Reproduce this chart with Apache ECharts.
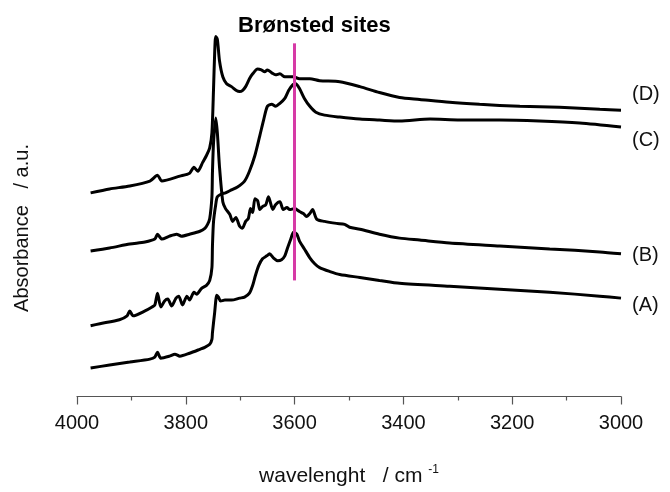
<!DOCTYPE html>
<html>
<head>
<meta charset="utf-8">
<script src="https://cdn.jsdelivr.net/npm/echarts@6/dist/echarts.min.js"></script>
<style>
  html, body { margin: 0; padding: 0; background: #fff; }
  #chart { width: 670px; height: 492px; }
</style>
</head>
<body>
<div id="chart"></div>
<script>
// IR spectra, wavenumber (cm-1) vs absorbance (a.u., offset traces)
const waveA = [3975,3940,3903,3866,3857,3852,3846,3830,3820,3811,3793,3774,3765,3756,3752,3751,3747,3743,3740,3736,3728,3716,3701,3692,3683,3677,3672,3666,3659,3651,3646,3639,3631,3624,3618,3613,3607,3602,3596,3591,3582,3572,3563,3554,3535,3517,3480,3444,3407,3315,3223,3131,3039,3000];
const absA  = [0.29,0.32,0.35,0.38,0.40,0.45,0.39,0.41,0.43,0.41,0.44,0.48,0.50,0.53,0.58,0.65,0.85,1.03,1.01,0.97,0.98,0.98,1.00,1.01,1.05,1.13,1.23,1.33,1.40,1.43,1.45,1.41,1.38,1.39,1.43,1.51,1.60,1.67,1.65,1.58,1.50,1.41,1.35,1.31,1.27,1.24,1.21,1.18,1.15,1.12,1.09,1.06,1.02,1.00];

const waveB = [3975,3940,3903,3875,3857,3852,3844,3830,3817,3808,3793,3774,3765,3760,3756,3752,3751,3749,3745,3742,3738,3732,3727,3719,3714,3708,3701,3696,3690,3685,3681,3677,3673,3668,3664,3659,3653,3648,3640,3635,3627,3621,3614,3609,3600,3591,3584,3578,3572,3567,3559,3545,3523,3508,3499,3480,3444,3407,3370,3315,3223,3131,3039,3000];
const absB  = [1.48,1.51,1.55,1.57,1.60,1.65,1.60,1.63,1.65,1.63,1.65,1.68,1.71,1.75,1.81,2.03,2.28,2.58,2.83,2.68,2.33,1.98,1.91,1.85,1.78,1.82,1.73,1.71,1.78,1.81,1.91,1.87,2.01,1.99,1.90,1.93,1.95,2.03,1.90,1.95,1.98,1.90,1.92,1.90,1.91,1.88,1.86,1.83,1.86,1.90,1.80,1.78,1.76,1.75,1.72,1.70,1.65,1.61,1.59,1.56,1.53,1.50,1.47,1.45];

const waveC = [3975,3958,3922,3908,3903,3897,3875,3862,3857,3852,3846,3839,3833,3826,3818,3813,3806,3798,3793,3785,3780,3771,3762,3756,3752,3751,3749,3745,3742,3734,3727,3716,3705,3692,3683,3673,3664,3657,3650,3642,3635,3627,3618,3611,3603,3598,3591,3582,3572,3561,3545,3517,3480,3444,3407,3351,3296,3223,3150,3076,3000];
const absC  = [0.72,0.74,0.78,0.82,0.87,0.82,0.87,0.91,0.93,1.05,0.91,0.97,0.99,0.92,1.00,1.02,0.93,1.02,0.98,1.06,1.04,1.10,1.13,1.18,1.31,1.53,1.78,1.95,2.03,2.06,2.07,2.10,2.13,2.19,2.29,2.45,2.65,2.81,2.95,2.97,2.95,2.98,3.03,3.11,3.17,3.18,3.13,3.03,2.95,2.89,2.86,2.84,2.82,2.81,2.80,2.82,2.81,2.81,2.80,2.78,2.74];

const waveD = [3975,3940,3903,3866,3852,3844,3811,3793,3785,3778,3769,3762,3756,3752,3749,3747,3745,3742,3738,3732,3725,3716,3707,3701,3696,3690,3683,3677,3668,3661,3655,3650,3642,3635,3627,3618,3603,3591,3572,3554,3517,3480,3444,3407,3370,3315,3260,3186,3113,3039,3000];
const absD  = [2.07,2.11,2.14,2.19,2.25,2.19,2.24,2.27,2.33,2.29,2.38,2.45,2.53,2.68,3.13,3.48,3.66,3.63,3.41,3.25,3.18,3.15,3.11,3.10,3.11,3.15,3.23,3.28,3.33,3.32,3.30,3.32,3.29,3.27,3.28,3.25,3.25,3.23,3.23,3.21,3.20,3.15,3.09,3.04,3.02,2.99,2.97,2.95,2.94,2.92,2.91];

const seriesNames = ['(A)', '(B)', '(C)', '(D)'];
const xTicks = [4000, 3800, 3600, 3400, 3200, 3000];
const bronstedWave = 3600;
const bronstedSpan = [1.18, 3.59];

const FONT = '"Liberation Sans", Arial, sans-serif';

function pairs(w, a) { return w.map((x, i) => [x, a[i]]); }

const traces = [
  { w: waveA, a: absA, dy: 7 },
  { w: waveB, a: absB, dy: 2 },
  { w: waveC, a: absC, dy: 14 },
  { w: waveD, a: absD, dy: -16 }
];

const series = traces.map((t, i) => ({
  name: seriesNames[i],
  type: 'line',
  data: pairs(t.w, t.a),
  showSymbol: false,
  smooth: 0.25,
  lineStyle: { color: '#000', width: 3 },
  z: 3
}));

// magenta marker at the Brønsted OH band
series.push({
  type: 'line',
  data: [],
  markLine: {
    silent: true,
    symbol: 'none',
    label: { show: false },
    lineStyle: { color: '#d63aa6', width: 3, type: 'solid' },
    data: [[{ coord: [bronstedWave, bronstedSpan[0]] }, { coord: [bronstedWave, bronstedSpan[1]] }]]
  },
  z: 2
});

const chart = echarts.init(document.getElementById('chart'), null, { renderer: 'canvas' });
chart.setOption({
  animation: false,
  backgroundColor: '#fff',
  title: {
    text: 'Brønsted sites',
    left: 233,
    top: 10,
    textStyle: { fontSize: 22, fontWeight: 'bold', color: '#000', fontFamily: FONT }
  },
  grid: { left: 77, right: 49, top: 3, bottom: 89 },
  xAxis: {
    type: 'value',
    inverse: true,
    min: 3000,
    max: 4000,
    interval: 200,
    name: '{a|wavelenght   / cm }{b|-1}',
    nameLocation: 'middle',
    nameGap: 67,
    nameTextStyle: {
      rich: {
        a: { fontSize: 21, color: '#111', fontFamily: FONT },
        b: { fontSize: 12, color: '#111', fontFamily: FONT, padding: [0, 0, 14, 0] }
      }
    },
    axisLine: { lineStyle: { color: '#555', width: 1.2 } },
    axisTick: { show: true, inside: false, length: 8, lineStyle: { color: '#555', width: 1.2 } },
    minorTick: { show: true, splitNumber: 2, length: 4, lineStyle: { color: '#555', width: 1.2 } },
    splitLine: { show: false },
    axisLabel: {
      margin: 17,
      fontSize: 20,
      color: '#111',
      fontFamily: FONT,
      formatter: v => xTicks.includes(v) ? String(v) : ''
    }
  },
  yAxis: {
    type: 'value',
    min: 0,
    max: 4,
    axisLine: { show: false },
    axisTick: { show: false },
    axisLabel: { show: false },
    splitLine: { show: false }
  },
  series: series
});

// trace labels just past the right end of each spectrum, plus the y-axis title
const graphics = traces.map((t, i) => {
  const last = t.w.length - 1;
  const p = chart.convertToPixel({ xAxisIndex: 0, yAxisIndex: 0 }, [t.w[last], t.a[last]]);
  return {
    type: 'text',
    x: p[0] + 11,
    y: p[1] + t.dy,
    style: {
      text: seriesNames[i],
      fill: '#111',
      fontSize: 20,
      fontFamily: FONT,
      textAlign: 'left',
      textVerticalAlign: 'middle'
    }
  };
});
graphics.push({
  type: 'text',
  x: 22,
  y: 228,
  rotation: Math.PI / 2,
  style: {
    text: 'Absorbance   / a.u.',
    fill: '#111',
    fontSize: 20,
    fontFamily: FONT,
    textAlign: 'center',
    textVerticalAlign: 'middle'
  }
});
chart.setOption({ graphic: graphics });
</script>
</body>
</html>
